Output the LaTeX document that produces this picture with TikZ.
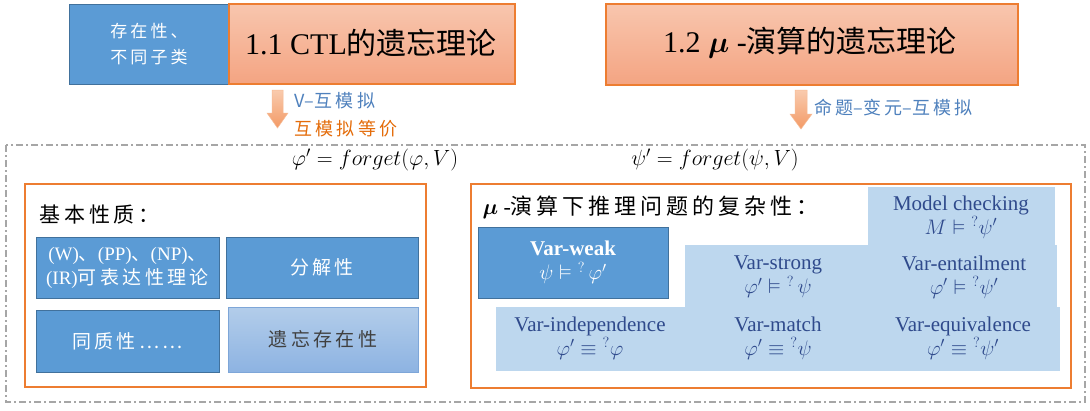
\RequirePackage{fix-cm}
\documentclass[tikz,border=0pt]{standalone}
\usepackage{amsmath,amssymb}
\usepackage{fontspec}
\setmainfont{Liberation Serif}
\newfontfamily\cjk{Noto Sans CJK SC}
\newfontfamily\cjkw{Noto Sans CJK SC}[LetterSpace=18]
\definecolor{orgB}{HTML}{ED7D31}
\definecolor{orgT}{HTML}{F8C6AE}
\definecolor{orgBot}{HTML}{F4A482}
\definecolor{blueF}{HTML}{5B9BD5}
\definecolor{blueD}{HTML}{41719C}
\definecolor{lblue}{HTML}{BDD7EE}
\definecolor{dblue}{HTML}{2F4A8C}
\definecolor{txtBlue}{HTML}{4F81BD}
\definecolor{txtOrg}{HTML}{E46C0A}
\definecolor{dashG}{HTML}{A6A6A6}
\definecolor{lbT}{HTML}{B3CDEA}
\definecolor{lbB}{HTML}{8DB3E2}
\definecolor{lbD}{HTML}{7EA6D8}
\definecolor{arrT}{HTML}{F9CBAE}
\definecolor{arrB}{HTML}{F39A66}
\newcommand\fsz[2]{\fontsize{#1}{#2}\selectfont}
\tikzset{
  corner/.style={anchor=north west, inner sep=0pt, outer sep=0pt},
  orangebox/.style={corner, draw=orgB, line width=1.2pt, top color=orgT, bottom color=orgBot},
  bluebox/.style={corner, draw=blueD, line width=1pt, fill=blueF},
  paleblue/.style={corner, draw=lbD, line width=1pt, top color=lbT, bottom color=lbB},
  lightbox/.style={corner, fill=lblue},
  panel/.style={corner, draw=orgB, line width=1.1pt},
  blockarrow/.style={draw=arrT!80!orgB, line width=0.5pt, top color=arrT, bottom color=arrB},
  lt/.style={text=dblue, align=center, font=\fsz{21}{24}}
}
\begin{document}
\begin{tikzpicture}[x=1pt,y=-1pt]
\useasboundingbox (0,0) rectangle (1090,410);
\fill[white] (0,0) rectangle (1090,410);
% top boxes
\node[bluebox, minimum width=160pt, minimum height=80pt] (cls) at (69,4) {};
\node[text=white, align=center, font=\cjkw\fsz{17}{26}] (clsT) at (cls.center) {存在性、\\不同子类};
\node[orangebox, minimum width=286pt, minimum height=80pt] (ctl) at (229,4) {};
\node[font=\fsz{30}{34}] (ctlT) at (371,43) {1.1 CTL{\cjk 的遗忘理论}};
\node[orangebox, minimum width=412pt, minimum height=81pt] (mu) at (606,4) {};
\node[font=\fsz{30}{34}] (muT) at (810,43) {1.2 $\boldsymbol{\mu}$ -{\cjk 演算的遗忘理论}};
% block arrows
\path[blockarrow] (272,90) -- (283,90) -- (283,113) -- (288,113) -- (277.5,128) -- (267,113) -- (272,113) -- cycle;
\path[blockarrow] (795,90) -- (807,90) -- (807,114) -- (812,114) -- (801,129) -- (790,114) -- (795,114) -- cycle;
\node[anchor=west, text=txtBlue, font=\cjkw\fsz{18}{20}] (vb) at (291,101) {V{\cjk –}互模拟};
\node[anchor=west, text=txtOrg, font=\cjkw\fsz{18}{20}] (eqv) at (291,129) {互模拟等价};
\node[anchor=west, text=txtBlue, font=\cjkw\fsz{18}{20}] (pb) at (811,108) {命题{\cjk –}变元{\cjk –}互模拟};
% dashed frame
\draw[dashG, line width=1.1pt, dash pattern=on 7pt off 3pt on 2pt off 3pt] (6,145) rectangle (1085,402);
\node[font=\fsz{22}{24}] (f1) at (375,160) {$\varphi' = forget(\varphi,V)$};
\node[font=\fsz{22}{24}] (f2) at (715,160) {$\psi' = forget(\psi,V)$};
% left panel
\node[panel, minimum width=401pt, minimum height=203pt] (lp) at (25,184) {};
\node[anchor=west, font=\cjkw\fsz{21}{24}] (lpt) at (36,215) {基本性质：};
\node[bluebox, minimum width=183pt, minimum height=61pt, text=white, align=center, font=\fsz{19}{24}] (p1) at (36,237) {(W){\cjk 、}(PP){\cjk 、}(NP){\cjk 、}\\(IR){\cjkw 可表达性理论}};
\node[bluebox, minimum width=192pt, minimum height=61pt, text=white, font=\cjkw\fsz{19}{24}] (p2) at (226,237) {分解性};
\node[bluebox, minimum width=183pt, minimum height=62pt, text=white, font=\cjkw\fsz{19}{24}] (p3) at (36,310) {同质性……};
\node[paleblue, minimum width=190pt, minimum height=65pt, text=black!75, font=\cjkw\fsz{19}{24}] (p4) at (228,307) {遗忘存在性};
% right panel
\node[panel, minimum width=600pt, minimum height=204pt] (rp) at (471,184) {};
\node[anchor=west, font=\fsz{22}{24}] (rpt) at (479,207) {$\boldsymbol{\mu}$ -{\cjkw 演算下推理问题的复杂性：}};
\node[lightbox, minimum width=187pt, minimum height=60pt] (mcb) at (868,187) {};
\node[lightbox, minimum width=372pt, minimum height=63pt] (midb) at (685,245) {};
\node[lightbox, minimum width=564pt, minimum height=64pt] (botb) at (496,307) {};
\node[bluebox, minimum width=190pt, minimum height=71pt] (vw) at (478,227) {};
\node[text=white, align=center, font=\fsz{21}{24}] (vwT) at (vw.center) {\textbf{Var-weak}\\$\psi\vDash{}^{?}\,\varphi'$};
\node[lt] (mc) at (961,217) {Model checking\\$M\vDash{}^{?}\psi'$};
\node[lt] (vs) at (778,277) {Var-strong\\$\varphi'\vDash{}^{?}\,\psi$};
\node[lt] (ve) at (964,277) {Var-entailment\\$\varphi'\vDash{}^{?}\psi'$};
\node[lt] (vi) at (590,338) {Var-independence\\$\varphi'\equiv{}^{?}\varphi$};
\node[lt] (vm) at (778,338) {Var-match\\$\varphi'\equiv{}^{?}\psi$};
\node[lt] (veq) at (963,338) {Var-equivalence\\$\varphi'\equiv{}^{?}\psi'$};
\end{tikzpicture}
\end{document}
